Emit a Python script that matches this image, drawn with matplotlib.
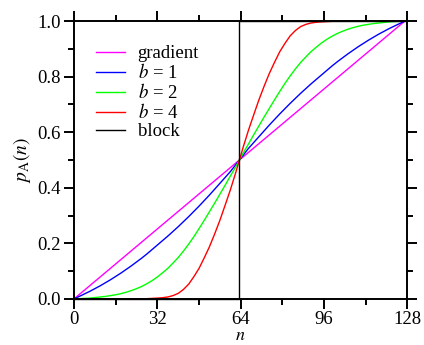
import matplotlib
matplotlib.use("Agg")
import matplotlib.pyplot as plt
from matplotlib.ticker import MultipleLocator

plt.rcParams['font.family'] = ['Liberation Serif', 'DejaVu Serif']
plt.rcParams['mathtext.fontset'] = 'stix'

n_vals = [0, 2, 4, 6, 8, 10, 12, 14, 16, 18, 20, 22, 24, 26, 28, 30,
          32, 34, 36, 38, 40, 42, 44, 46, 48, 50, 52, 54, 56, 58, 60, 62,
          63.5,
          65, 67, 69, 71, 73, 75, 77, 79, 81, 83, 85, 87, 89, 91, 93, 95,
          97, 99, 101, 103, 105, 107, 109, 111, 113, 115, 117, 119, 121, 123, 125, 127]

p_b1 = [0.000, 0.009, 0.018, 0.027, 0.037, 0.047, 0.058, 0.069, 0.081, 0.093, 0.106, 0.119,
        0.133, 0.147, 0.162, 0.178, 0.194, 0.210, 0.226, 0.243, 0.260, 0.278, 0.296, 0.315,
        0.334, 0.354, 0.374, 0.395, 0.416, 0.437, 0.458, 0.482,
        0.500,
        0.518, 0.542, 0.563, 0.584, 0.605, 0.626, 0.646, 0.666, 0.685, 0.704, 0.722, 0.740,
        0.757, 0.774, 0.790, 0.806, 0.822, 0.838, 0.853, 0.867, 0.881, 0.894, 0.907, 0.919,
        0.931, 0.942, 0.953, 0.963, 0.973, 0.982, 0.991, 1.000]

p_b2 = [0.000, 0.001, 0.002, 0.003, 0.005, 0.007, 0.009, 0.012, 0.015, 0.019, 0.024, 0.030,
        0.037, 0.045, 0.055, 0.066, 0.079, 0.094, 0.110, 0.129, 0.149, 0.172, 0.197, 0.224,
        0.253, 0.283, 0.314, 0.345, 0.377, 0.409, 0.442, 0.474,
        0.500,
        0.526, 0.558, 0.591, 0.623, 0.655, 0.686, 0.717, 0.747, 0.776, 0.803, 0.828, 0.851,
        0.871, 0.890, 0.906, 0.921, 0.934, 0.945, 0.955, 0.963, 0.970, 0.976, 0.981, 0.985,
        0.988, 0.991, 0.993, 0.995, 0.997, 0.998, 0.999, 1.000]

p_b4 = [0.000, 0.000, 0.000, 0.000, 0.000, 0.000, 0.000, 0.000, 0.000, 0.000, 0.000, 0.000,
        0.0003, 0.0006, 0.001, 0.002, 0.003, 0.0045, 0.007, 0.012, 0.020, 0.034, 0.053, 0.080,
        0.110, 0.148, 0.188, 0.234, 0.283, 0.337, 0.392, 0.452,
        0.500,
        0.548, 0.608, 0.663, 0.717, 0.766, 0.812, 0.852, 0.890, 0.920, 0.947, 0.966, 0.980,
        0.988, 0.993, 0.9955, 0.997, 0.998, 0.999, 0.9994, 0.9997, 1.000, 1.000, 1.000, 1.000,
        1.000, 1.000, 1.000, 1.000, 1.000, 1.000, 1.000, 1.000]

grad_n = [0, 127]
grad_p = [0.0, 1.0]

block_n = [0, 63.5, 63.5, 127]
block_p = [0.0, 0.0, 1.0, 1.0]

x_ticks = [0, 32, 64, 96, 128]
x_tick_labels = ['0', '32', '64', '96', '128']
y_ticks = [0.0, 0.2, 0.4, 0.6, 0.8, 1.0]
y_tick_labels = ['0.0', '0.2', '0.4', '0.6', '0.8', '1.0']

fig = plt.figure(figsize=(4.24, 3.45), dpi=100)
ax = fig.add_axes([0.1745, 0.1335, 0.7865, 0.8055])

lw = 1.0
ax.plot(grad_n, grad_p, color='#ff00ff', lw=lw, label='gradient', clip_on=False)
ax.plot(n_vals, p_b1, color='#0000ff', lw=lw, label=r'$b$ = 1', clip_on=False)
ax.plot(n_vals, p_b2, color='#00ff00', lw=lw, label=r'$b$ = 2', clip_on=False)
ax.plot(n_vals, p_b4, color='#ff0000', lw=lw, label=r'$b$ = 4', clip_on=False)
ax.plot(block_n, block_p, color='black', lw=lw, label='block', clip_on=False)

ax.set_xlim(0, 128)
ax.set_ylim(0, 1)
ax.set_xticks(x_ticks)
ax.set_xticklabels(x_tick_labels)
ax.set_yticks(y_ticks)
ax.set_yticklabels(y_tick_labels)
ax.xaxis.set_minor_locator(MultipleLocator(16))
ax.yaxis.set_minor_locator(MultipleLocator(0.1))

for s in ax.spines.values():
    s.set_linewidth(1.4)

ax.tick_params(which='both', direction='out', top=True, right=True,
               labeltop=False, labelright=False, width=1.4, labelsize=13.5)
ax.tick_params(which='major', length=7.5, pad=2)
ax.tick_params(axis='x', which='major', pad=1.5)
ax.tick_params(which='minor', length=4)

ax.set_xlabel(r'$n$', fontsize=13, labelpad=-1)
ax.set_ylabel(r'$p_{\rm A}(n)$', fontsize=14, labelpad=3)

leg = ax.legend(loc='upper left', bbox_to_anchor=(0.045, 0.94), frameon=False,
                fontsize=13.5, handlelength=1.5, handletextpad=0.7,
                labelspacing=0.05, borderaxespad=0)

fig.savefig('out.png', dpi=100)
